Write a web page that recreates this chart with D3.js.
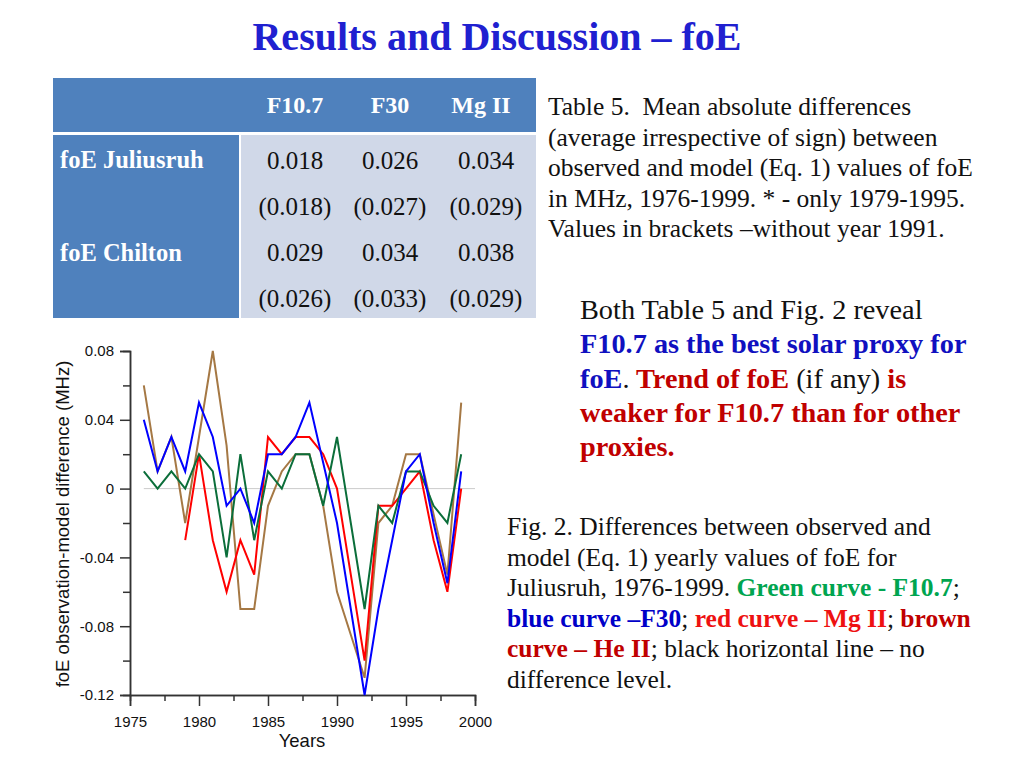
<!DOCTYPE html>
<html>
<head>
<meta charset="utf-8">
<script src="https://cdn.jsdelivr.net/npm/d3@7"></script>
<style>
  body { margin: 0; background: #fff; }
  svg text { font-family: "Liberation Serif", "Times New Roman", serif; white-space: pre; }
  .axis text { font-family: "Liberation Sans", Arial, sans-serif; font-size: 15px; fill: #111; }
  .axis path, .axis line { stroke: #333; stroke-width: 1.5; }
</style>
</head>
<body>
<script>
// chart data
var years = d3.range(1976, 2000);
var f107 = [0.01, 0, 0.01, 0, 0.02, 0.01, -0.04, 0.02, -0.03, 0.01, 0, 0.02, 0.02, -0.01, 0.03, -0.02, -0.07, -0.01, -0.02, 0.01, 0.01, -0.01, -0.02, 0.02];
var f30 = [0.04, 0.01, 0.03, 0.01, 0.05, 0.03, -0.01, 0, -0.02, 0.02, 0.02, 0.03, 0.05, 0.015, -0.02, -0.07, -0.12, -0.07, -0.03, 0.01, 0.02, -0.02, -0.055, 0.01];
var mg2 = [null, null, null, -0.03, 0.02, -0.03, -0.06, -0.03, -0.05, 0.03, 0.02, 0.03, 0.03, 0.02, 0, -0.05, -0.10, -0.01, -0.01, 0, 0.01, -0.03, -0.06, 0];
var he2 = [0.06, 0.01, 0.03, -0.02, 0.03, 0.08, 0.025, -0.07, -0.07, -0.01, 0.01, 0.02, 0.02, -0.01, -0.06, -0.085, -0.11, -0.02, -0.01, 0.02, 0.02, -0.015, -0.05, 0.05];

var yTicks = [-0.12, -0.08, -0.04, 0, 0.04, 0.08];
var yTickLabels = ["-0.12", "-0.08", "-0.04", "0", "0.04", "0.08"];
var yMinor = [-0.1, -0.06, -0.02, 0.02, 0.06];
var xTicks = [1975, 1980, 1985, 1990, 1995, 2000];
var xMinor = [1977.5, 1982.5, 1987.5, 1992.5, 1997.5];

// table data
var tableCols = ["F10.7", "F30", "Mg II"];
var tableRows = ["foE Juliusruh", "foE Chilton"];
var juliusruhVals = ["0.018", "0.026", "0.034"];
var juliusruhBr = ["(0.018)", "(0.027)", "(0.029)"];
var chiltonVals = ["0.029", "0.034", "0.038"];
var chiltonBr = ["(0.026)", "(0.033)", "(0.029)"];

var svg = d3.select("body").append("svg")
    .attr("width", 1024)
    .attr("height", 768);

// title
svg.append("text")
    .attr("x", 497).attr("y", 50)
    .attr("text-anchor", "middle")
    .style("font-size", "40px")
    .style("font-weight", "bold")
    .attr("fill", "#2020d0")
    .text("Results and Discussion \u2013 foE");

// ---- table ----
var tbl = svg.append("g");
tbl.append("rect").attr("x", 53).attr("y", 78).attr("width", 483).attr("height", 54).attr("fill", "#4f81bd");
tbl.append("rect").attr("x", 53).attr("y", 135).attr("width", 186).attr("height", 183).attr("fill", "#4f81bd");
tbl.append("rect").attr("x", 241).attr("y", 135).attr("width", 295).attr("height", 183).attr("fill", "#d0d8e8");

var colX = [295, 390, 486];
tbl.selectAll(".hdr").data(tableCols).enter().append("text")
    .attr("x", function (d, i) { return i == 2 ? 481 : colX[i]; })
    .attr("y", 113)
    .attr("text-anchor", "middle")
    .style("font-size", "24px").style("font-weight", "bold")
    .attr("fill", "#fff")
    .text(function (d) { return d; });

tbl.selectAll(".rowlab").data(tableRows).enter().append("text")
    .attr("x", 60)
    .attr("y", function (d, i) { return 168 + i * 93; })
    .style("font-size", "24.5px").style("font-weight", "bold")
    .attr("fill", "#fff")
    .text(function (d) { return d; });

var cellRows = [juliusruhVals, juliusruhBr, chiltonVals, chiltonBr];
cellRows.forEach(function (row, r) {
    tbl.selectAll(".c" + r).data(row).enter().append("text")
        .attr("x", function (d, i) { return colX[i]; })
        .attr("y", 169 + r * 46)
        .attr("text-anchor", "middle")
        .style("font-size", "25px")
        .attr("fill", "#111")
        .text(function (d) { return d; });
});

// ---- chart ----
var x = d3.scaleLinear().domain([1975, 2000]).range([130, 475]);
var y = d3.scaleLinear().domain([-0.12, 0.08]).range([695, 351]);

svg.append("line")
    .attr("x1", x(1976)).attr("x2", x(2000))
    .attr("y1", y(0)).attr("y2", y(0))
    .attr("stroke", "#cccccc").attr("stroke-width", 1);

var yAxis = d3.axisLeft(y).tickValues(yTicks).tickSize(10).tickPadding(6)
    .tickFormat(function (d, i) { return yTickLabels[i]; });
var yAxisMinor = d3.axisLeft(y).tickValues(yMinor).tickSize(7).tickFormat("");
var xAxis = d3.axisBottom(x).tickValues(xTicks).tickSize(11).tickPadding(10)
    .tickFormat(d3.format("d"));
var xAxisMinor = d3.axisBottom(x).tickValues(xMinor).tickSize(6).tickFormat("");

svg.append("g").attr("class", "axis").attr("transform", "translate(130,0)").call(yAxis);
svg.append("g").attr("class", "axis").attr("transform", "translate(130,0)").call(yAxisMinor);
svg.append("g").attr("class", "axis").attr("transform", "translate(0,695)").call(xAxis);
svg.append("g").attr("class", "axis").attr("transform", "translate(0,695)").call(xAxisMinor);
svg.selectAll(".axis .domain").attr("stroke-width", 2);

svg.append("text")
    .attr("transform", "translate(69,524) rotate(-90)")
    .attr("text-anchor", "middle")
    .style("font-family", "Liberation Sans, Arial, sans-serif")
    .style("font-size", "18.5px")
    .attr("fill", "#111")
    .text("foE observation-model difference (MHz)");

svg.append("text")
    .attr("x", 302).attr("y", 747)
    .attr("text-anchor", "middle")
    .style("font-family", "Liberation Sans, Arial, sans-serif")
    .style("font-size", "18.5px")
    .attr("fill", "#111")
    .text("Years");

var line = d3.line()
    .defined(function (d) { return d != null; })
    .x(function (d, i) { return x(years[i]); })
    .y(function (d) { return y(d); });

var series = [
    {vals: he2, color: "#a57844"},
    {vals: mg2, color: "#ff0000"},
    {vals: f107, color: "#0b6e3a"},
    {vals: f30, color: "#0000ff"}
];
series.forEach(function (s) {
    svg.append("path")
        .datum(s.vals)
        .attr("fill", "none")
        .attr("stroke", s.color)
        .attr("stroke-width", 2)
        .attr("d", line);
});

// ---- right hand text ----
function para(x0, y0, lh, size, lines) {
    lines.forEach(function (parts, i) {
        var t = svg.append("text").attr("x", x0).attr("y", y0 + i * lh).style("font-size", size + "px");
        parts.forEach(function (p) {
            t.append("tspan")
                .attr("fill", p[1] || "#111")
                .style("font-weight", p[2] ? "bold" : "normal")
                .text(p[0]);
        });
    });
}

para(548, 115, 30.5, 25.5, [
    [["Table 5.  Mean absolute differences"]],
    [["(average irrespective of sign) between"]],
    [["observed and model (Eq. 1) values of foE"]],
    [["in MHz, 1976-1999. * - only 1979-1995."]],
    [["Values in brackets \u2013without year 1991."]]
]);

var blue = "#1010c0", dred = "#c00000";
para(580, 319, 34.3, 28.3, [
    [["Both Table 5 and Fig. 2 reveal"]],
    [["F10.7 as the best solar proxy for", blue, 1]],
    [["foE", blue, 1], ["."], [" Trend of foE", dred, 1], [" (if any) "], ["is", dred, 1]],
    [["weaker for F10.7 than for other", dred, 1]],
    [["proxies.", dred, 1]]
]);

para(507, 535, 30.5, 25.5, [
    [["Fig. 2. Differences between observed and"]],
    [["model (Eq. 1) yearly values of foE for"]],
    [["Juliusruh, 1976-1999. "], ["Green curve - F10.7", "#00a550", 1], [";"]],
    [["blue curve \u2013F30", "#0000c8", 1], ["; "], ["red curve \u2013 Mg II", "#ee1111", 1], ["; "], ["brown", dred, 1]],
    [["curve \u2013 He II", dred, 1], ["; black horizontal line \u2013 no"]],
    [["difference level."]]
]);
</script>
</body>
</html>
